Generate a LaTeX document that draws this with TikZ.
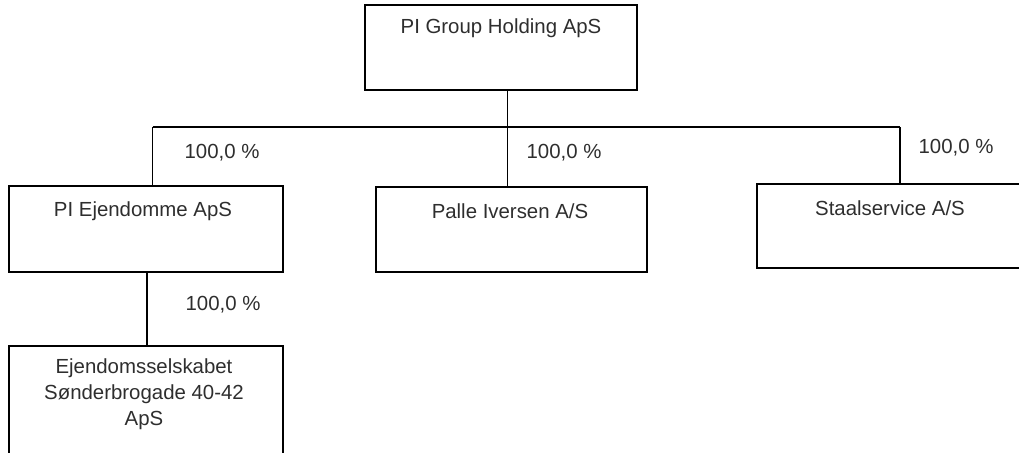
\documentclass[tikz,border=0pt]{standalone}
\usepackage{fontspec}
\setmainfont{Liberation Sans}
\definecolor{txt}{HTML}{2E2E2E}
\begin{document}
\begin{tikzpicture}[x=0.5pt,y=-0.5pt,
  box/.style={draw=black, line width=0.7pt, anchor=north west, inner sep=0pt, outer sep=0pt},
  lbl/.style={text=txt, font=\fontsize{10.2pt}{13pt}\selectfont, inner sep=0pt, align=center},
  conn/.style={draw=black, line width=0.6pt}]
\useasboundingbox (0,0) rectangle (1019,452);
% boxes
\node[box, minimum width=136pt, minimum height=42.5pt] (top) at (365,5) {};
\node[box, minimum width=137pt, minimum height=43pt] (left) at (9,186) {};
\node[box, minimum width=135.5pt, minimum height=42.5pt] (mid) at (376,187) {};
\node[box, minimum width=140pt, minimum height=42pt] (right) at (757,184) {};
\node[box, minimum width=137pt, minimum height=60pt] (bot) at (9,346) {};
% texts
\node[lbl] (ttop) at (501,28) {PI Group Holding ApS};
\node[lbl] (tleft) at (143,211) {PI Ejendomme ApS};
\node[lbl] (tmid) at (510,211) {Palle Iversen A/S};
\node[lbl] (tright) at (890,208) {Staalservice A/S};
\node[lbl] (tbot) at (144,394) {Ejendomsselskabet\\Sønderbrogade 40-42\\ApS};
% percentages
\node[lbl] (p1) at (222,153) {100,0 \%};
\node[lbl] (p2) at (564,153) {100,0 \%};
\node[lbl] (p3) at (956,148) {100,0 \%};
\node[lbl] (p4) at (223,305) {100,0 \%};
% connectors
\coordinate (jm) at (507.7,127);
\coordinate (jl) at (152.7,127);
\coordinate (jr) at (900,127);
\coordinate (bl) at (147,300);
\draw[conn] (jm |- top.south) -- (jm);
\draw[conn] (jl) -- (jr);
\draw[conn] (jl) -- (jl |- left.north);
\draw[conn] (jm) -- (jm |- mid.north);
\draw[conn] (jr) -- (jr |- right.north);
\draw[conn] (bl |- left.south) -- (bl |- bot.north);
\end{tikzpicture}
\end{document}
